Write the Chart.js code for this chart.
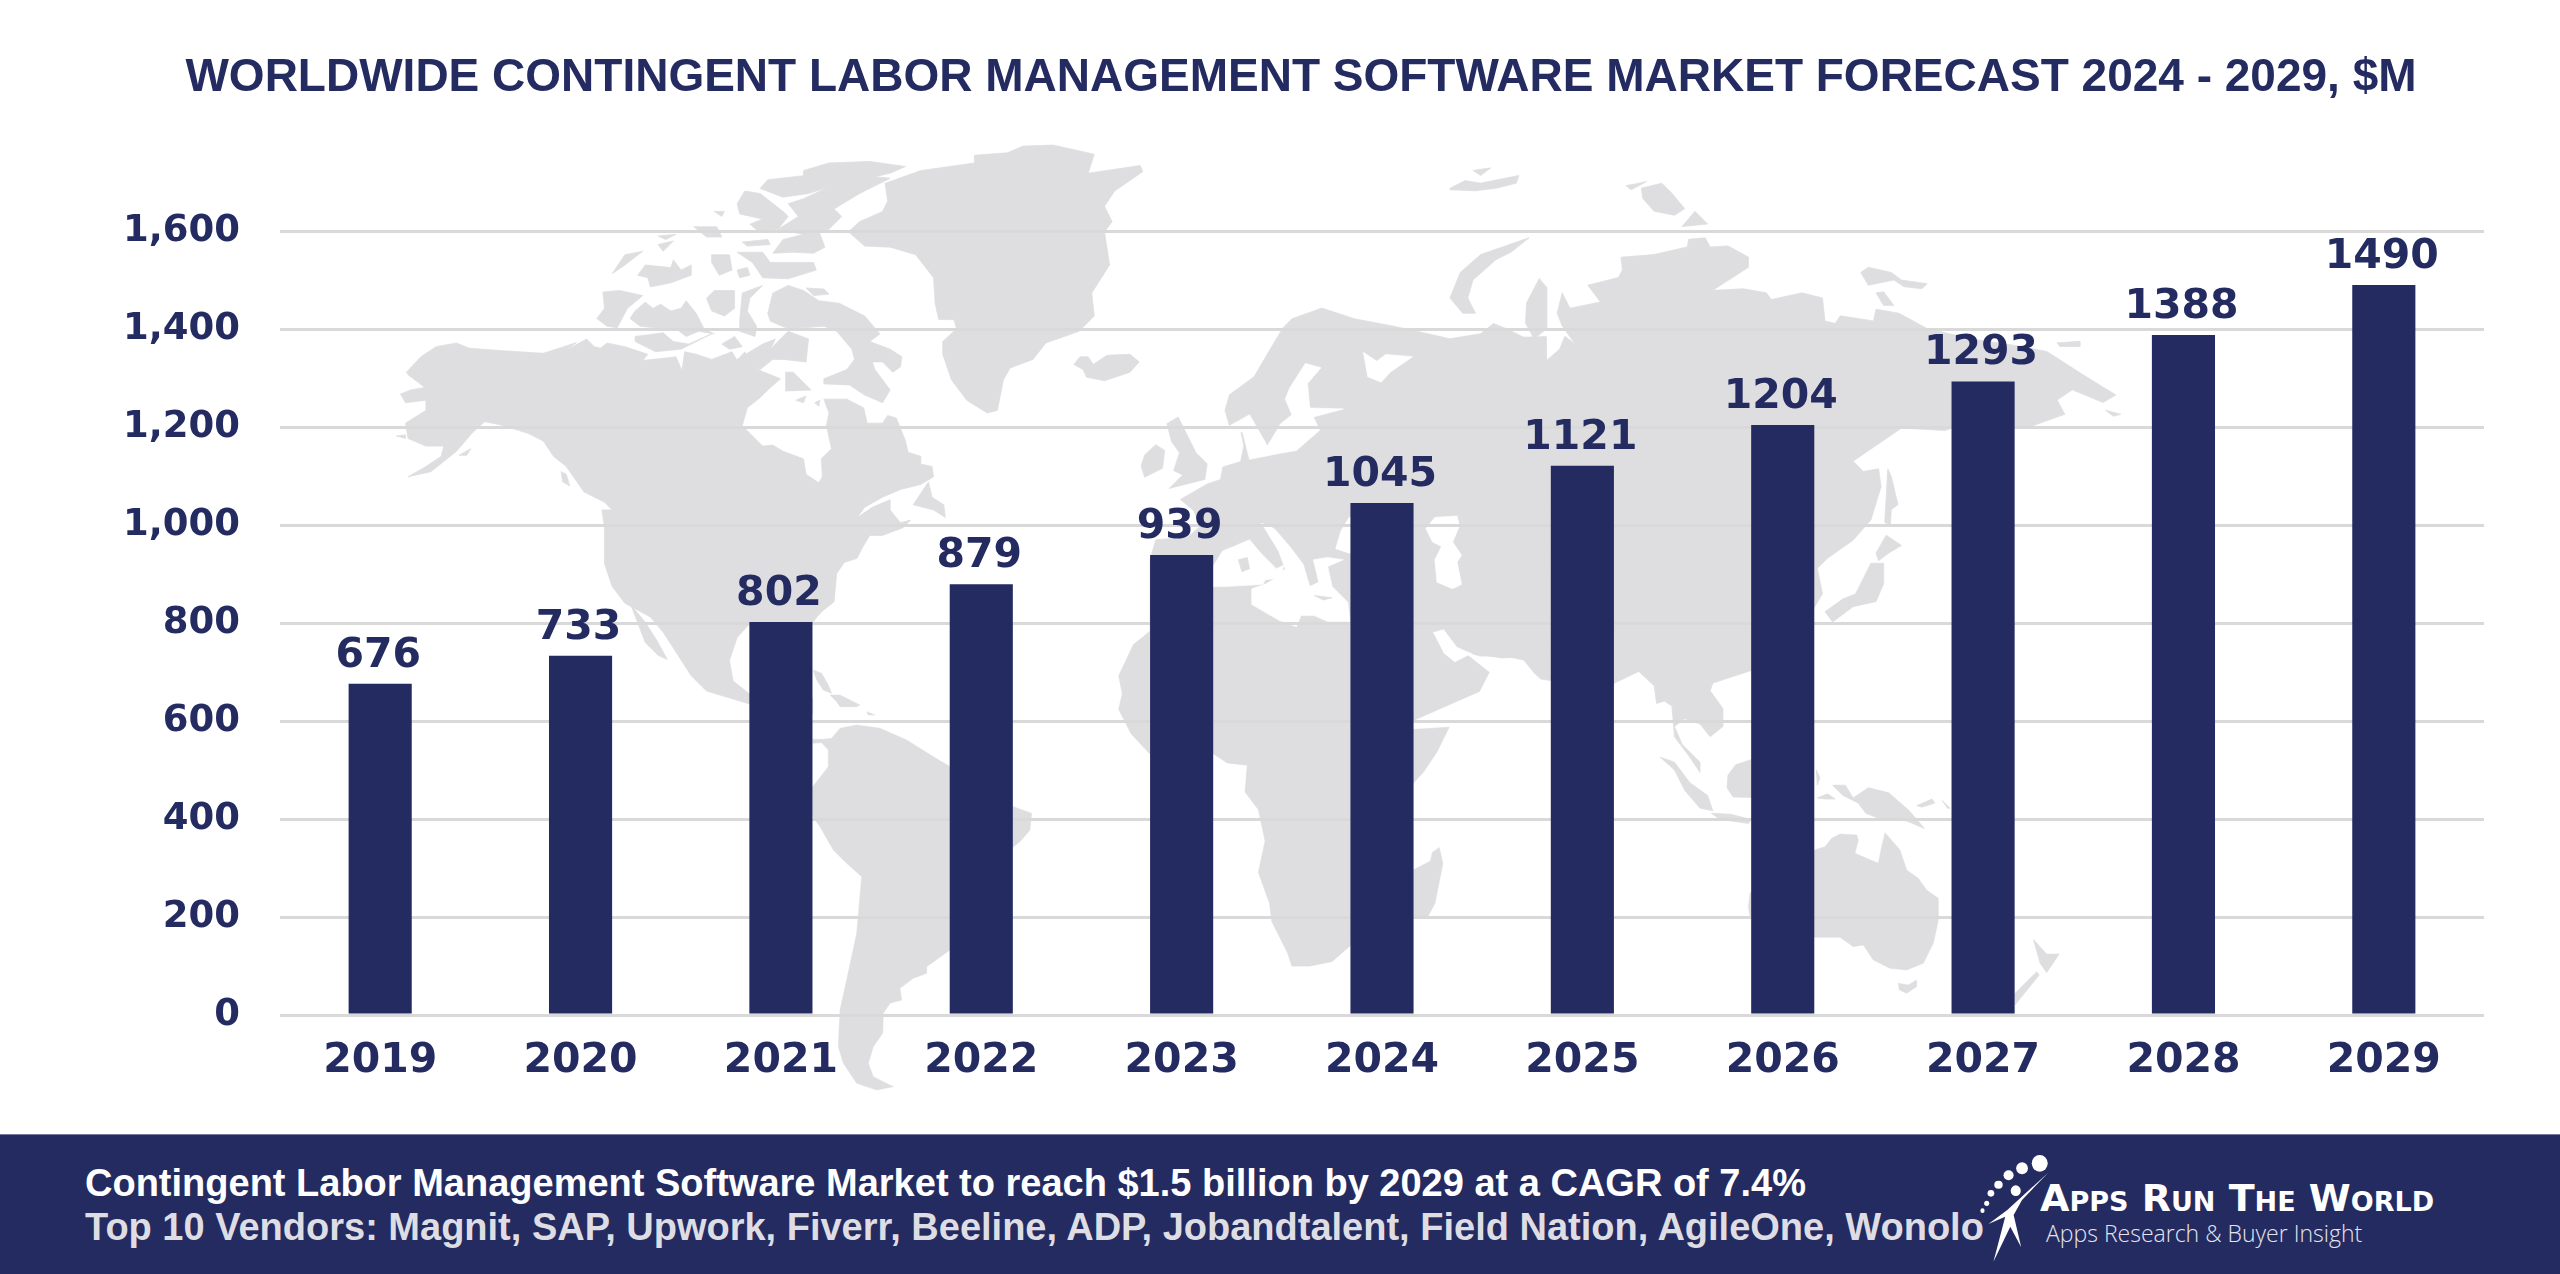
<!DOCTYPE html>
<html><head><meta charset="utf-8">
<script src="https://cdn.jsdelivr.net/npm/chart.js@4"></script>
<style>
html,body{margin:0;padding:0;background:#fff;width:2560px;height:1274px;overflow:hidden}
#map{position:absolute;left:0;top:0;width:2560px;height:1274px}
#chart{position:absolute;left:0;top:0}
#banner{position:absolute;left:0;top:1134px;width:2560px;height:140px;background:#242B61;border-top:1px solid #7679a0;box-sizing:border-box}
.t{position:absolute;white-space:nowrap}
.b{font-family:"Liberation Sans Narrow","Liberation Sans";font-weight:700;font-size:38px;line-height:44px;left:85px}
#logo{position:absolute;left:0;top:0}
</style></head><body>
<svg id="map" viewBox="0 0 2560 1274" fill="#DEDDE0" stroke="#DEDDE0" stroke-width="1.5" stroke-linejoin="round">
<g transform="translate(380,140) scale(.5102)">
<polygon points="52,455 80,425 110,405 150,398 175,408 240,413 320,418 345,410 385,397 365,412 405,390 420,405 432,408 445,398 480,405 525,420 515,432 555,428 580,425 592,452 597,415 620,420 650,430 690,415 700,432 715,415 725,440 745,452 785,468 760,490 745,505 720,525 710,560 735,585 750,600 770,598 790,610 830,625 835,655 860,672 867,660 865,625 885,605 875,560 880,535 870,508 915,508 948,525 955,555 985,555 995,540 1012,545 1030,590 1035,612 1060,620 1060,635 1082,640 1085,660 1060,675 1020,685 985,700 950,720 935,740 965,720 1000,705 1000,725 1020,750 1040,745 1025,760 985,775 960,775 945,800 935,820 910,828 895,850 890,905 865,925 848,945 723,950 700,975 685,1020 692,1060 723,1085 848,1095 848,1125 723,1105 640,1080 610,1050 555,965 530,935 480,908 455,875 440,830 440,760 435,725 455,725 440,710 400,690 365,640 340,620 320,590 290,575 235,558 205,552 180,575 150,610 100,650 55,660 90,640 120,620 125,600 90,600 55,585 50,555 90,530 90,510 50,515 40,498 60,490 88,485 55,460"/>
<polygon points="492,912 520,945 545,985 563,1018 545,1010 520,985"/>
<polygon points="355,650 365,655 372,678 358,670"/>
<polygon points="32,580 50,578 50,585"/>
<polygon points="155,618 178,605 170,618"/>
<polygon points="1075,670 1082,700 1105,715 1108,740 1085,725 1045,715"/>
<polygon points="760,340 770,300 800,285 830,295 860,315 900,320 950,345 980,380 960,395 1000,410 1023,425 1020,445 1005,455 985,435 965,435 970,450 1000,490 985,515 950,500 920,480 870,478 870,468 915,450 930,430 925,410 895,375 870,365 800,370 765,355"/>
<polygon fill="#fff" stroke="#fff" points="885,405 900,410 900,430 890,425"/>
<polygon points="830,60 880,45 960,42 1030,52 1000,65 970,72 1000,75 940,105 890,135 905,150 880,175 860,178 872,210 850,222 810,220 770,222 790,195 830,185 780,175 820,150 800,125 830,115 880,92 840,105 790,112 745,95 760,78 830,70"/>
<polygon points="700,125 715,100 745,105 790,140 800,150 780,175 740,178 725,165 750,155 705,145"/>
<polygon points="990,85 1060,60 1165,45 1165,30 1230,25 1260,12 1320,10 1400,28 1388,65 1490,50 1495,62 1440,100 1420,130 1435,160 1420,180 1430,245 1395,300 1400,345 1370,375 1305,398 1280,430 1235,447 1222,470 1210,530 1190,535 1150,510 1120,470 1103,420 1103,395 1130,370 1125,352 1095,352 1088,320 1085,270 1050,225 1000,210 950,208 918,180 940,160 985,140 995,120"/>
<polygon points="1360,440 1372,425 1388,425 1398,440 1425,422 1470,420 1488,435 1470,455 1420,472 1385,465 1378,450"/>
<polygon points="490,350 500,335 520,318 535,330 550,322 570,335 590,330 600,315 620,340 635,370 655,380 625,375 600,385 580,370 555,370 510,365"/>
<polygon points="425,350 440,330 437,298 470,295 515,305 485,330 465,368 445,365"/>
<polygon points="500,385 555,378 575,395 605,400 650,380 590,410 540,415 500,395"/>
<polygon points="705,355 710,300 750,285 725,310 720,335 738,365 735,385 705,375"/>
<polygon points="640,310 655,295 695,295 695,330 675,345 650,335"/>
<polygon points="670,400 695,385 710,405 685,410"/>
<polygon points="455,262 480,225 515,218 480,245"/>
<polygon points="505,265 520,245 570,250 575,235 590,255 610,245 610,265 570,280 530,288 525,270"/>
<polygon points="650,225 685,225 690,255 665,265 650,240"/>
<polygon points="700,255 720,250 725,265 705,270"/>
<polygon points="700,220 750,220 765,240 850,240 855,255 800,272 750,270 730,240"/>
<polygon points="710,200 760,195 765,205 720,208"/>
<polygon points="615,170 660,170 670,190 640,190"/>
<polygon points="655,140 675,140 670,150"/>
<polygon points="545,188 580,185 560,195"/>
<polygon points="545,205 575,198 555,218"/>
<polygon points="835,290 870,292 880,302 850,305"/>
<polygon points="795,455 810,455 845,490 795,492"/>
<polygon points="815,510 835,502 830,515"/>
<polygon points="852,515 862,510 860,522"/>
<polygon points="750,400 775,390 765,410 800,375 840,390 835,435 790,430 770,430 745,450 700,430"/>
</g>
<g transform="translate(700,660) scale(.33333)">
<polygon points="338,380 385,320 385,270 365,248 338,250 338,238 370,238 395,235 420,205 470,195 540,205 620,240 700,290 750,320 940,440 995,460 990,510 960,545 940,560 750,870 680,920 680,940 640,955 600,985 605,1020 570,1030 550,1060 548,1120 520,1160 505,1210 520,1250 580,1280 530,1290 470,1270 430,1210 415,1160 420,1050 440,960 470,820 485,650 440,610 400,570 360,500 338,470"/>
<polygon points="340,30 365,40 385,75 395,100 370,90 350,60"/>
<polygon points="390,105 420,105 480,135 470,140 420,140 410,125"/>
<polygon points="500,155 525,165 505,165"/>
</g>
<g transform="translate(1450,150) scale(.5102)">
<polygon points="45,800 0,800 0,370 60,360 85,340 110,350 160,375 165,405 190,412 215,390 225,365 245,380 220,345 210,320 220,280 235,310 295,298 270,265 330,250 338,235 335,210 400,205 465,190 468,175 500,172 510,190 545,188 585,210 585,230 515,275 575,272 620,280 630,293 690,280 730,290 735,335 755,340 765,325 830,335 835,312 880,320 935,350 1020,370 1120,385 1170,395 1240,440 1305,480 1280,495 1220,470 1190,490 1205,518 1130,545 1000,540 970,550 885,545 790,610 810,630 840,625 845,660 825,725 790,765 740,800 720,820 730,870 715,895 690,920 650,1000 585,1022 545,1035 515,1045 510,1060 535,1095 535,1130 510,1150 490,1125 460,1115 440,1130 455,1165 490,1200 490,1220 470,1190 440,1150 435,1090 420,1080 405,1085 400,1050 370,1022 322,1045 260,1150 198,1040 178,1037 165,1025 145,1000 110,992 60,992 45,988"/>
<polygon points="0,290 20,240 60,205 155,172 120,200 90,215 45,255 35,290 50,320 25,320"/>
<polygon points="150,300 175,252 190,270 190,350 165,370 148,340"/>
<polygon fill="#fff" stroke="#fff" points="540,1050 560,1042 555,1060 542,1062"/>
<polygon points="412,1190 440,1200 470,1240 505,1265 515,1295 490,1290 460,1255 440,1215"/>
<polygon points="512,1300 550,1302 590,1312 585,1320 530,1312"/>
<polygon points="545,1225 560,1205 590,1195 650,1200 650,1270 555,1268 543,1250"/>
<polygon points="718,1215 725,1230 720,1245"/>
<polygon points="720,1270 740,1262 755,1272 735,1272"/>
<polygon points="750,1245 775,1245 790,1270 820,1250 860,1260 900,1295 930,1330 895,1315 840,1310 815,1300 800,1280 770,1265"/>
<polygon points="915,1285 945,1272 950,1280 925,1288"/>
<polygon points="965,1275 980,1290 975,1290"/>
<polygon points="835,790 855,755 885,775 860,790 840,805"/>
<polygon points="735,905 770,880 795,870 825,810 850,810 850,850 835,885 790,895 750,925"/>
<polygon points="858,625 865,640 878,695 865,705 863,735 852,730 855,680"/>
<polygon points="375,75 415,65 435,85 460,115 440,128 400,120 378,95"/>
<polygon points="345,70 385,62 355,78"/>
<polygon points="455,150 480,120 505,145"/>
<polygon points="0,75 30,60 60,65 85,60 135,50 130,65 90,75 50,80 0,78"/>
<polygon points="45,40 80,35 60,50"/>
<polygon points="805,240 820,230 865,240 885,255 935,262 925,272 890,268 870,255 820,265"/>
<polygon points="835,280 850,278 870,305 850,305"/>
<polygon points="1190,378 1235,375 1235,385 1195,385"/>
<polygon points="1285,510 1315,518 1300,522"/>
</g>
<g transform="translate(1100,350) scale(.4464)">
<polygon points="1000,-30 1010,735 975,712 945,687 900,690 835,680 800,665 770,625 745,632 770,680 795,700 825,685 872,722 850,765 770,800 702,830 690,845 702,850 782,845 755,900 725,945 702,970 600,1200 560,1335 520,1370 470,1380 430,1380 420,1350 385,1280 380,1240 355,1170 370,1100 355,1030 325,990 330,930 285,925 255,905 112,905 70,860 42,805 50,770 42,730 75,660 112,630 112,470 125,425 195,420 225,395 210,360 180,335 240,300 270,290 275,262 315,250 322,215 315,180 290,170 280,135 290,100 345,60 380,0 410,-50 430,-70 497,-94 570,-70 650,-55 720,-40 784,-25"/>
<polygon fill="#fff" stroke="#fff" points="290,170 335,145 375,215 405,165 430,145 415,110 425,85 460,30 495,40 465,75 470,130 545,132 478,150 492,180 440,225 400,232 335,245 320,185"/>
<polygon fill="#fff" stroke="#fff" points="590,5 600,60 630,72 650,50 700,15 640,10 620,25"/>
<polygon fill="#fff" stroke="#fff" points="253,485 275,450 300,440 335,425 360,455 395,490 412,482 405,510 370,515 365,525 280,530 253,530"/>
<polygon fill="#fff" stroke="#fff" points="362,388 390,400 425,440 455,480 470,530 490,520 478,470 510,465 545,470 510,485 520,530 555,565 560,608 510,608 480,595 450,595 440,620 400,605 340,570 340,535 370,525 395,510 415,490 400,450"/>
<polygon fill="#fff" stroke="#fff" points="528,445 540,405 558,375 640,375 640,460 558,455"/>
<polygon fill="#fff" stroke="#fff" points="730,400 750,375 800,372 805,395 790,430 810,460 800,475 810,525 790,535 755,520 750,470 765,440 745,430"/>
<polygon points="310,470 330,465 335,490 318,497"/>
<polygon points="480,550 520,555 500,560"/>
<polygon points="92,260 100,235 125,212 145,225 140,265 100,285"/>
<polygon points="150,165 175,150 195,190 215,230 240,255 235,290 155,310 185,280 165,270 178,230 160,205"/>
<polygon points="702,1165 740,1145 745,1125 760,1115 768,1150 750,1240 735,1268 702,1268"/>
</g>
<g transform="translate(1650,700) scale(.33333)">
<polygon points="295,620 300,580 494,450 525,440 545,415 570,402 620,405 625,420 615,460 685,490 695,440 705,398 750,450 770,510 805,535 830,570 865,595 865,660 850,730 820,790 770,810 720,805 670,780 640,735 610,740 570,712 494,712 300,650"/>
<polygon points="745,850 775,855 800,840 800,860 770,880 748,870"/>
<polygon points="1150,718 1190,762 1228,762 1190,818 1170,790"/>
<polygon points="1160,815 1168,825 1095,915 1095,880"/>
</g>
</svg>
<canvas id="chart" width="2560" height="1274"></canvas>
<div id="banner"></div>
<div class="t b" style="top:1161px;color:#fff">Contingent Labor Management Software Market to reach $1.5 billion by 2029 at a CAGR of 7.4%</div>
<div class="t b" style="top:1205px;color:#DEDDE4">Top 10 Vendors: Magnit, SAP, Upwork, Fiverr, Beeline, ADP, Jobandtalent, Field Nation, AgileOne, Wonolo</div>
<svg id="logo" width="2560" height="1274" fill="#fff" style="pointer-events:none">
<g transform="translate(1900,1100) scale(.42088,.33333)">
<ellipse cx="332" cy="190" rx="19" ry="25"/><ellipse cx="290" cy="205" rx="14" ry="18"/><ellipse cx="258" cy="226" rx="12" ry="15"/><ellipse cx="234" cy="254" rx="10" ry="12"/><ellipse cx="216" cy="280" rx="8" ry="10"/><ellipse cx="206" cy="310" rx="6" ry="8"/><ellipse cx="196" cy="332" rx="5" ry="7"/><ellipse cx="275" cy="272" rx="12" ry="16"/>
<polygon points="352,218 290,300 270,345 288,442 262,380 222,485 250,350 210,372 255,330"/>
</g></svg>
<div class="t" style="left:2040px;top:1176px;font:700 38px/44px 'DejaVu Sans';font-variant:small-caps;color:#fff;letter-spacing:0">Apps Run The World</div>
<div class="t" style="left:2046px;top:1218px;font:300 23px/30px 'Open Sans';color:#E4E5EE">Apps Research &amp; Buyer Insight</div>
<script>
const titleText = "WORLDWIDE CONTINGENT LABOR MANAGEMENT SOFTWARE MARKET FORECAST 2024 - 2029, $M";
const years = ["2019","2020","2021","2022","2023","2024","2025","2026","2027","2028","2029"];
const marketValues = [676,733,802,879,939,1045,1121,1204,1293,1388,1490];
const yTicks = [0,200,400,600,800,1000,1200,1400,1600];
const navy = "#242B61";
const valueLabels = {
  id:"valueLabels",
  afterDatasetsDraw(c){
    const ctx=c.ctx, meta=c.getDatasetMeta(0);
    ctx.save();
    ctx.font="700 41px 'DejaVu Sans'";
    ctx.fillStyle=navy; ctx.textAlign="center"; ctx.textBaseline="alphabetic";
    meta.data.forEach((bar,i)=>ctx.fillText(String(marketValues[i]),bar.x-2,bar.y-17));
    ctx.restore();
  }
};
new Chart(document.getElementById("chart"),{
  type:"bar",
  data:{labels:years,datasets:[{data:marketValues,backgroundColor:navy,borderWidth:0,barPercentage:.315,categoryPercentage:1}]},
  plugins:[valueLabels],
  options:{
    responsive:false,animation:false,devicePixelRatio:1,
    layout:{padding:{left:118,right:76,top:0,bottom:0}},
    plugins:{
      legend:{display:false},tooltip:{enabled:false},
      title:{display:true,text:titleText,color:navy,font:{family:"'Liberation Sans'",size:46,weight:"700",lineHeight:1},padding:{top:55,bottom:130}}
    },
    scales:{
      x:{grid:{display:false},border:{display:false},
         ticks:{color:navy,padding:14,maxRotation:0,font:{family:"'DejaVu Sans'",size:41,weight:"700"}},
         afterFit(s){s.height=259;}},
      y:{min:0,max:1600,grid:{color:"#D9D9D9",lineWidth:3,drawTicks:false},border:{display:false},
         afterBuildTicks(s){s.ticks=yTicks.map(v=>({value:v}));},
         ticks:{color:navy,padding:40,font:{family:"'DejaVu Sans'",size:37,weight:"700"}},
         afterFit(s){s.width=162;}}
    }
  }
});
</script>
</body></html>
